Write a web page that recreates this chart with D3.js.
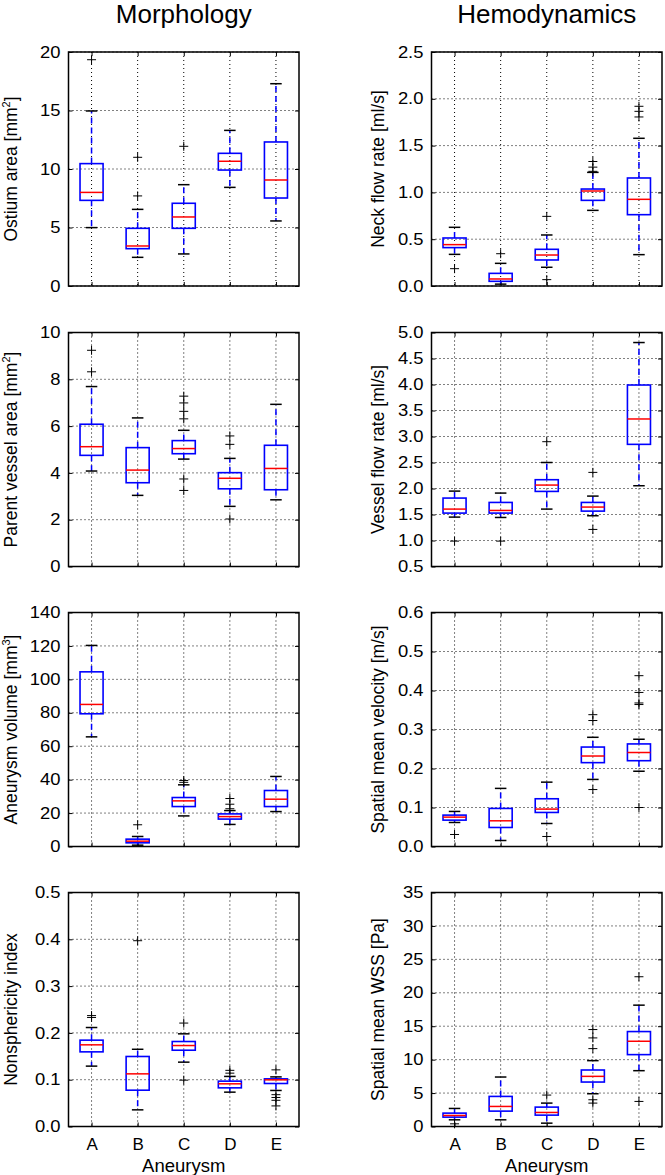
<!DOCTYPE html>
<html><head><meta charset="utf-8">
<script src="https://cdn.jsdelivr.net/npm/d3@7"></script>
<style>
body{margin:0;background:#fff}
svg{display:block}
text{font-family:"Liberation Sans",Arial,Helvetica,sans-serif;fill:#000}
</style>
</head><body>
<svg id="chart" width="665" height="1175"></svg>
<script>
const categories = ["A","B","C","D","E"];
const columnTitles = ["Morphology","Hemodynamics"];
const xAxisTitle = "Aneurysm";

// per category: [lower whisker, Q1, median, Q3, upper whisker]
const ostiumArea = [[4.99,7.32,8.0,10.46,14.96],[2.45,3.19,3.42,4.93,6.55],[2.74,4.93,5.90,7.07,8.66],[8.43,9.91,10.66,11.34,13.3],[5.56,7.52,9.06,12.31,17.29]];
const ostiumAreaFliers = [[19.34],[11.0,7.7],[11.94],[],[]];
const ostiumTicks = [0,5,10,15,20];

const parentVessel = [[4.08,4.75,5.12,6.08,7.69],[3.04,3.58,4.12,5.08,6.35],[4.59,4.82,5.04,5.38,5.82],[2.57,3.32,3.77,4.01,4.62],[2.85,3.28,4.19,5.18,6.93]];
const parentVesselFliers = [[9.24,8.32],[],[7.28,6.99,6.63,6.31,3.74,3.25],[5.58,5.22,2.03],[]];
const parentVesselTicks = [0,2,4,6,8,10];

const aneurysmVolume = [[65.6,79.4,85.0,104.5,120.3],[0.8,2.2,3.2,4.4,6.0],[18.3,23.9,27.3,29.3,36.9],[13.2,16.4,17.9,19.5,21.5],[20.9,23.9,28.3,33.5,41.9]];
const aneurysmVolumeFliers = [[],[13.0],[39.5,38.4],[28.7,25.3,22.6],[]];
const volumeTicks = [0,20,40,60,80,100,120,140];

const nonsphericity = [[0.129,0.1595,0.1745,0.1845,0.2115],[0.0356,0.0776,0.1125,0.1496,0.165],[0.1375,0.163,0.173,0.1816,0.198],[0.0734,0.0826,0.0912,0.0969,0.107],[0.077,0.0919,0.0997,0.1018,0.106]];
const nonsphericityFliers = [[0.237,0.233],[0.397],[0.221,0.099],[0.120,0.114],[0.121,0.068,0.062,0.056,0.044]];
const nonsphericityTicks = [0,0.1,0.2,0.3,0.4,0.5];

const neckFlow = [[0.338,0.41,0.442,0.513,0.627],[0.02,0.05,0.075,0.135,0.242],[0.2,0.278,0.331,0.392,0.545],[0.808,0.915,1.015,1.036,1.214],[0.335,0.762,0.926,1.154,1.578]];
const neckFlowFliers = [[0.185],[0.345],[0.744,0.068],[1.33,1.27,1.225],[1.92,1.866,1.806]];
const neckFlowTicks = [0,0.5,1.0,1.5,2.0,2.5];

const vesselFlow = [[1.45,1.527,1.604,1.816,1.95],[1.443,1.527,1.578,1.732,1.912],[1.604,1.944,2.066,2.169,2.5],[1.476,1.565,1.643,1.732,1.854],[2.053,2.849,3.337,3.99,4.807]];
const vesselFlowFliers = [[0.988],[0.988],[2.9],[2.31,1.213],[]];
const vesselFlowTicks = [0.5,1.0,1.5,2.0,2.5,3.0,3.5,4.0,4.5,5.0];

const meanVelocity = [[0.0616,0.0676,0.0753,0.0805,0.0899],[0.0154,0.0488,0.0659,0.0976,0.149],[0.059,0.0873,0.0959,0.1224,0.165],[0.172,0.215,0.232,0.255,0.28],[0.193,0.22,0.241,0.263,0.275]];
const meanVelocityFliers = [[0.0308],[],[0.0257],[0.338,0.323,0.146],[0.438,0.395,0.368,0.364,0.1]];
const velocityTicks = [0,0.1,0.2,0.3,0.4,0.5,0.6];

const meanWSS = [[1.0,1.4,1.65,2.0,2.7],[1.0,2.3,3.0,4.5,7.4],[0.5,1.7,2.1,2.9,3.5],[4.9,6.65,7.5,8.45,9.85],[8.35,10.75,12.75,14.2,18.15]];
const meanWSSFliers = [[0.4],[],[4.7],[14.5,13.25,11.65,4.0,3.5],[22.4,3.75]];
const wssTicks = [0,5,10,15,20,25,30,35];

const f0 = d3.format("d"), f1 = d3.format(".1f");
const panels = [
  {col:0,row:0,stats:ostiumArea,fliers:ostiumAreaFliers,ticks:ostiumTicks,fmt:f0,label:"Ostium area [mm",sup:"2"},
  {col:0,row:1,stats:parentVessel,fliers:parentVesselFliers,ticks:parentVesselTicks,fmt:f0,label:"Parent vessel area [mm",sup:"2"},
  {col:0,row:2,stats:aneurysmVolume,fliers:aneurysmVolumeFliers,ticks:volumeTicks,fmt:f0,label:"Aneurysm volume [mm",sup:"3"},
  {col:0,row:3,stats:nonsphericity,fliers:nonsphericityFliers,ticks:nonsphericityTicks,fmt:f1,label:"Nonsphericity index",sup:null},
  {col:1,row:0,stats:neckFlow,fliers:neckFlowFliers,ticks:neckFlowTicks,fmt:f1,label:"Neck flow rate [ml/s]",sup:null},
  {col:1,row:1,stats:vesselFlow,fliers:vesselFlowFliers,ticks:vesselFlowTicks,fmt:f1,label:"Vessel flow rate [ml/s]",sup:null},
  {col:1,row:2,stats:meanVelocity,fliers:meanVelocityFliers,ticks:velocityTicks,fmt:f1,label:"Spatial mean velocity [m/s]",sup:null},
  {col:1,row:3,stats:meanWSS,fliers:meanWSSFliers,ticks:wssTicks,fmt:f0,label:"Spatial mean WSS [Pa]",sup:null}
];

const svg = d3.select("#chart");
const colX = [68.5, 431.5];
const rowY = [52, 332.5, 612.5, 892.5];
const W = 230.5, H = 234;
const labelX = [-52, -48];
const tickScale = 1.15;

// column titles
columnTitles.forEach((t,i)=>{
  svg.append("text").attr("x", colX[i]+W/2).attr("y", 23).attr("text-anchor","middle")
    .style("font-size","26px").text(t);
});

panels.forEach(p=>{
  const g = svg.append("g").attr("transform",`translate(${colX[p.col]},${rowY[p.row]})`);
  const x = d3.scaleLinear().domain([0.5, categories.length+0.5]).range([0,W]);
  const y = d3.scaleLinear().domain([p.ticks[0], p.ticks[p.ticks.length-1]]).range([H,0]);
  const pos = categories.map((c,i)=>i+1);

  // grid
  const grid = g.append("g").attr("stroke","#000").attr("stroke-width",1).attr("stroke-dasharray","1,3");
  grid.selectAll(".gh").data(p.ticks).join("line")
    .attr("x1",0).attr("x2",W).attr("y1",d=>y(d)).attr("y2",d=>y(d));
  grid.selectAll(".gv").data(pos).join("line")
    .attr("y1",0).attr("y2",H).attr("x1",d=>x(d)).attr("x2",d=>x(d));

  // axes with inward ticks
  const left = g.append("g").call(d3.axisLeft(y).tickValues(p.ticks).tickFormat(p.fmt).tickSize(-4).tickPadding(7));
  left.selectAll("text").style("font-size","16px").attr("transform",`scale(${tickScale},1)`);
  const right = g.append("g").attr("transform",`translate(${W},0)`).call(d3.axisRight(y).tickValues(p.ticks).tickFormat("").tickSize(-4));
  const top = g.append("g").call(d3.axisTop(x).tickValues(pos).tickFormat("").tickSize(-4));
  const bottom = g.append("g").attr("transform",`translate(0,${H})`)
    .call(d3.axisBottom(x).tickValues(pos).tickFormat(p.row===3 ? (d=>categories[d-1]) : "").tickSize(-4).tickPadding(8));
  bottom.selectAll("text").style("font-size","17px").attr("dy","0.92em");
  [left,right,top,bottom].forEach(a=>{a.select(".domain").remove(); a.selectAll("line").attr("stroke","#000").attr("stroke-width",1);});

  // boxes
  const bw = 0.25, cw = 0.125;
  const bx = g.append("g").selectAll("g").data(p.stats).join("g");
  // whiskers
  bx.append("line").attr("x1",(d,i)=>x(i+1)).attr("x2",(d,i)=>x(i+1)).attr("y1",d=>y(d[3])).attr("y2",d=>y(d[4]))
    .attr("stroke","#0000ff").attr("stroke-width",1.5).attr("stroke-dasharray","6,4");
  bx.append("line").attr("x1",(d,i)=>x(i+1)).attr("x2",(d,i)=>x(i+1)).attr("y1",d=>y(d[1])).attr("y2",d=>y(d[0]))
    .attr("stroke","#0000ff").attr("stroke-width",1.5).attr("stroke-dasharray","6,4");
  // caps
  [0,4].forEach(k=>{
    bx.append("line").attr("x1",(d,i)=>x(i+1-cw)).attr("x2",(d,i)=>x(i+1+cw)).attr("y1",d=>y(d[k])).attr("y2",d=>y(d[k]))
      .attr("stroke","#000").attr("stroke-width",1.5);
  });
  // box
  bx.append("rect").attr("x",(d,i)=>x(i+1-bw)).attr("width",(d,i)=>x(i+1+bw)-x(i+1-bw))
    .attr("y",d=>y(d[3])).attr("height",d=>y(d[1])-y(d[3]))
    .attr("fill","none").attr("stroke","#0000ff").attr("stroke-width",1.6);
  // median
  bx.append("line").attr("x1",(d,i)=>x(i+1-bw)).attr("x2",(d,i)=>x(i+1+bw)).attr("y1",d=>y(d[2])).attr("y2",d=>y(d[2]))
    .attr("stroke","#ff0000").attr("stroke-width",1.5);
  // fliers
  const fl = [];
  p.fliers.forEach((arr,i)=>arr.forEach(v=>fl.push([i+1,v])));
  g.append("g").selectAll("path").data(fl).join("path")
    .attr("d",d=>{const cx=x(d[0]), cy=y(d[1]), s=4.5; return `M${cx-s},${cy}H${cx+s}M${cx},${cy-s}V${cy+s}`;})
    .attr("stroke","#000").attr("stroke-width",1).attr("fill","none");

  // frame
  g.append("rect").attr("width",W).attr("height",H).attr("fill","none").attr("stroke","#000").attr("stroke-width",1.5);

  // y label
  const lt = g.append("text").attr("transform",`translate(${labelX[p.col]},${H/2}) rotate(-90)`)
    .attr("text-anchor","middle").style("font-size","17.5px");
  lt.append("tspan").text(p.label);
  if (p.sup) {
    lt.append("tspan").attr("dy",-7).style("font-size","11px").text(p.sup);
    lt.append("tspan").attr("dy",7).text("]");
  }

  if (p.row===3) {
    g.append("text").attr("x",W/2).attr("y",H+45).attr("text-anchor","middle").style("font-size","18.5px").text(xAxisTitle);
  }
});
</script>
</body></html>
